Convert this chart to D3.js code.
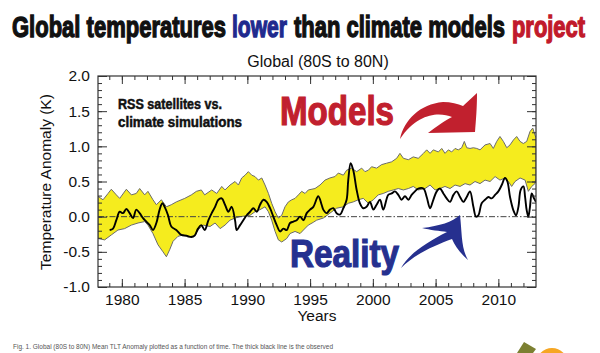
<!DOCTYPE html>
<html><head><meta charset="utf-8">
<script src="https://cdn.jsdelivr.net/npm/d3@7"></script>
<style>body{margin:0;background:#fff}svg{display:block}</style>
</head><body>
<svg id="c" width="600" height="353"></svg>
<script>
// ---- data ----
const xDomain = [1978.1, 2013.0];
const yDomain = [-1.0, 2.0];
const xMajorTicks = [1980, 1985, 1990, 1995, 2000, 2005, 2010];
const yMajorTicks = [-1.0, -0.5, 0.0, 0.5, 1.0, 1.5, 2.0];

const upperYears = [1978.1,1978.5,1978.9,1979.16,1979.56,1979.83,1980.36,1980.76,1981.15,1981.42,1981.82,1982.08,1982.48,1982.75,1983.15,1983.55,1983.94,1984.34,1985.01,1985.54,1985.94,1986.33,1986.6,1987.16,1987.56,1987.96,1988.22,1988.62,1989.02,1989.29,1989.55,1989.82,1990.08,1990.35,1990.61,1990.88,1991.15,1991.41,1991.68,1991.94,1992.21,1992.47,1992.74,1993.0,1993.27,1993.54,1993.8,1994.07,1994.33,1994.6,1994.86,1995.39,1995.79,1996.19,1996.58,1996.98,1997.25,1997.65,1997.91,1998.31,1998.71,1999.11,1999.37,1999.64,1999.9,2000.3,2000.7,2001.1,2001.5,2001.9,2002.16,2002.43,2002.83,2003.22,2003.62,2004.03,2004.29,2004.56,2004.82,2005.22,2005.49,2005.75,2006.02,2006.28,2006.55,2006.81,2007.08,2007.29,2007.48,2007.74,2008.01,2008.28,2008.54,2008.94,2009.34,2009.6,2009.87,2010.13,2010.4,2010.67,2010.93,2011.2,2011.46,2011.73,2011.99,2012.26,2012.52,2012.74,2012.92,2013.0];
const upperValues = [0.29,0.24,0.33,0.39,0.31,0.26,0.39,0.31,0.33,0.40,0.31,0.36,0.24,0.17,0.24,0.14,0.17,0.21,0.26,0.31,0.36,0.38,0.31,0.38,0.33,0.43,0.38,0.45,0.50,0.45,0.55,0.59,0.64,0.59,0.57,0.52,0.55,0.45,0.33,0.19,0.07,-0.02,0.02,0.14,0.21,0.24,0.26,0.31,0.36,0.33,0.38,0.40,0.45,0.52,0.55,0.57,0.62,0.59,0.66,0.69,0.64,0.69,0.64,0.66,0.71,0.69,0.74,0.76,0.78,0.83,0.90,0.83,0.81,0.85,0.83,0.90,0.95,0.90,0.95,0.92,0.97,0.90,0.95,0.92,0.97,0.95,0.98,1.07,0.98,0.97,0.98,0.97,0.95,1.02,1.04,0.97,1.07,1.14,1.07,0.98,1.02,1.09,1.14,1.07,1.04,1.07,1.21,1.26,1.16,1.12];

const lowerYears = [1978.1,1978.63,1979.16,1979.69,1980.22,1980.76,1981.29,1981.82,1982.08,1982.48,1982.88,1983.28,1983.55,1983.81,1984.08,1984.47,1984.87,1985.27,1985.8,1986.07,1986.47,1987.03,1987.43,1987.83,1988.22,1988.62,1989.02,1989.42,1989.82,1990.22,1990.61,1991.01,1991.41,1991.68,1991.94,1992.21,1992.47,1992.74,1993.14,1993.4,1993.8,1994.2,1994.47,1994.86,1995.26,1995.52,1996.05,1996.58,1997.11,1997.65,1998.04,1998.44,1998.84,1999.24,1999.64,2000.04,2000.43,2000.83,2001.23,2001.63,2002.03,2002.43,2002.83,2003.22,2003.62,2004.16,2004.56,2004.96,2005.35,2005.75,2006.15,2006.55,2006.95,2007.35,2007.74,2008.14,2008.54,2008.94,2009.34,2009.74,2010.13,2010.53,2010.8,2011.06,2011.33,2011.73,2012.13,2012.39,2012.66,2012.92,2013.0];
const lowerValues = [-0.31,-0.33,-0.26,-0.19,-0.17,-0.12,-0.09,-0.07,-0.12,-0.24,-0.40,-0.50,-0.57,-0.47,-0.35,-0.28,-0.26,-0.29,-0.27,-0.19,-0.12,-0.14,-0.09,-0.17,-0.12,-0.05,-0.02,0.00,0.01,0.02,0.07,0.10,0.14,0.07,-0.05,-0.21,-0.33,-0.36,-0.31,-0.24,-0.21,-0.24,-0.19,-0.12,-0.08,-0.05,-0.02,0.05,0.12,0.14,0.19,0.21,0.24,0.26,0.19,0.24,0.31,0.33,0.36,0.38,0.40,0.38,0.40,0.43,0.38,0.40,0.45,0.38,0.40,0.43,0.40,0.45,0.43,0.47,0.45,0.50,0.47,0.52,0.50,0.57,0.52,0.55,0.50,0.43,0.50,0.55,0.52,0.36,0.43,0.47,0.55];

const obsYears = [1979.03,1979.3,1979.56,1979.83,1980.09,1980.36,1980.62,1980.89,1981.15,1981.42,1981.69,1981.95,1982.22,1982.48,1982.75,1983.01,1983.23,1983.41,1983.68,1983.94,1984.34,1984.74,1985.14,1985.54,1985.8,1986.07,1986.33,1986.6,1986.9,1987.16,1987.43,1987.69,1987.96,1988.22,1988.49,1988.75,1989.02,1989.15,1989.42,1989.68,1989.95,1990.22,1990.48,1990.75,1991.01,1991.28,1991.54,1991.81,1992.07,1992.34,1992.61,1992.87,1993.14,1993.4,1993.67,1993.93,1994.2,1994.47,1994.73,1995.0,1995.26,1995.65,1995.92,1996.05,1996.32,1996.58,1996.85,1997.11,1997.38,1997.65,1997.91,1998.04,1998.23,1998.44,1998.71,1998.97,1999.24,1999.5,1999.77,2000.04,2000.3,2000.57,2000.83,2001.23,2001.5,2001.76,2002.03,2002.29,2002.56,2002.83,2003.09,2003.36,2003.62,2004.03,2004.29,2004.56,2004.82,2005.09,2005.35,2005.62,2005.88,2006.15,2006.42,2006.68,2006.95,2007.21,2007.48,2007.74,2008.01,2008.22,2008.41,2008.67,2008.94,2009.2,2009.47,2009.74,2010.0,2010.27,2010.53,2010.72,2010.93,2011.2,2011.41,2011.6,2011.78,2012.0,2012.13,2012.26,2012.39,2012.52,2012.66,2012.84,2013.0];
const obsValues = [-0.19,-0.17,-0.05,0.07,0.05,0.11,0.05,-0.02,0.10,0.05,-0.02,-0.07,-0.12,-0.19,-0.09,0.10,0.19,0.14,0.02,-0.14,-0.19,-0.26,-0.27,-0.29,-0.27,-0.17,-0.12,-0.19,-0.05,0.05,0.14,0.24,0.26,0.17,0.07,0.14,-0.05,-0.19,-0.12,-0.05,0.02,0.07,0.12,0.07,0.17,0.24,0.21,0.12,0.00,-0.12,-0.21,-0.17,-0.19,-0.09,-0.07,-0.05,0.00,-0.05,0.05,0.10,0.14,0.29,0.17,0.10,0.05,0.10,0.12,0.05,0.03,0.12,0.24,0.52,0.76,0.66,0.38,0.19,0.12,0.14,0.21,0.10,0.17,0.24,0.10,0.31,0.33,0.36,0.31,0.24,0.29,0.24,0.31,0.36,0.40,0.40,0.28,0.12,0.24,0.36,0.40,0.33,0.26,0.21,0.31,0.36,0.28,0.21,0.28,0.36,0.14,0.00,0.02,0.19,0.24,0.28,0.26,0.31,0.36,0.45,0.55,0.50,0.28,0.09,0.02,0.14,0.38,0.43,0.28,0.09,0.00,0.14,0.33,0.26,0.21];

const titleWords = ["Global temperatures", "lower", "than climate models", "project"];
const titleColors = ["#111", "#1f2a8e", "#111", "#c11a2b"];

// ---- drawing ----
const svg = d3.select("#c");
const L = 98, R = 536, T = 76, B = 287;
const x = d3.scaleLinear().domain(xDomain).range([L, R]);
const y = d3.scaleLinear().domain(yDomain).range([B, T]);
const sans = "'Liberation Sans', Arial, Helvetica, sans-serif";

// title: four separately fitted pieces
const titleX = [12, 232, 294, 512];
const titleLen = [214, 55, 211, 73];
titleWords.forEach((w, i) => {
  svg.append("text")
    .attr("transform", `translate(${titleX[i]},37) scale(1,1.36)`)
    .attr("font-family", sans).attr("font-weight", "bold").attr("font-size", 22)
    .attr("textLength", titleLen[i]).attr("lengthAdjust", "spacingAndGlyphs")
    .attr("fill", titleColors[i]).attr("stroke", titleColors[i]).attr("stroke-width", 1.0)
    .text(w);
});

svg.append("text").attr("x", 318).attr("y", 67).attr("text-anchor", "middle")
  .attr("font-family", sans).attr("font-size", 16).attr("fill", "#111").text("Global (80S to 80N)");

// clip
svg.append("clipPath").attr("id", "clip").append("rect")
  .attr("x", L).attr("y", T).attr("width", R - L).attr("height", B - T);
const plot = svg.append("g").attr("clip-path", "url(#clip)");

const upper = d3.zip(upperYears, upperValues);
const lower = d3.zip(lowerYears, lowerValues);
const obs = d3.zip(obsYears, obsValues);
const line = d3.line().x(d => x(d[0])).y(d => y(d[1]));

plot.append("path").attr("d", line(upper.concat(lower.slice().reverse())) + "Z")
  .attr("fill", "#f5ec1e").attr("stroke", "#6b6b6b").attr("stroke-width", 1);

plot.append("line").attr("x1", L).attr("x2", R).attr("y1", y(0)).attr("y2", y(0))
  .attr("stroke", "#444").attr("stroke-width", 1).attr("stroke-dasharray", "6,2,1.5,2");

plot.append("path").attr("d", line.curve(d3.curveCatmullRom.alpha(0.5))(obs))
  .attr("fill", "none").attr("stroke", "#000").attr("stroke-width", 1.9).attr("stroke-linejoin", "round");

// axes
const minorX = d3.range(1979, 2013);
const minorY = d3.range(-10, 21).map(v => v / 10);
function styleAxis(g) {
  g.select(".domain").remove();
  g.selectAll(".tick line").attr("stroke", "#333").attr("stroke-width", 1);
  g.selectAll(".tick text").attr("font-family", sans).attr("font-size", 15.5).attr("fill", "#111");
}
svg.append("g").attr("transform", `translate(0,${B})`)
  .call(d3.axisBottom(x).tickValues(minorX).tickSize(-4).tickFormat("")).call(styleAxis);
svg.append("g").attr("transform", `translate(0,${B})`)
  .call(d3.axisBottom(x).tickValues(xMajorTicks).tickSize(-8).tickPadding(6.5).tickFormat(d3.format("d"))).call(styleAxis);
svg.append("g").attr("transform", `translate(0,${T})`)
  .call(d3.axisTop(x).tickValues(minorX).tickSize(-4).tickFormat("")).call(styleAxis);
svg.append("g").attr("transform", `translate(0,${T})`)
  .call(d3.axisTop(x).tickValues(xMajorTicks).tickSize(-8).tickFormat("")).call(styleAxis);
svg.append("g").attr("transform", `translate(${L},0)`)
  .call(d3.axisLeft(y).tickValues(minorY).tickSize(-4).tickFormat("")).call(styleAxis);
svg.append("g").attr("transform", `translate(${L},0)`)
  .call(d3.axisLeft(y).tickValues(yMajorTicks).tickSize(-9).tickPadding(8).tickFormat(d => d3.format(".1f")(d).replace("−", "-"))).call(styleAxis);
svg.append("g").attr("transform", `translate(${R},0)`)
  .call(d3.axisRight(y).tickValues(minorY).tickSize(-4).tickFormat("")).call(styleAxis);
svg.append("g").attr("transform", `translate(${R},0)`)
  .call(d3.axisRight(y).tickValues(yMajorTicks).tickSize(-9).tickFormat("")).call(styleAxis);

svg.append("rect").attr("x", L).attr("y", T).attr("width", R - L).attr("height", B - T)
  .attr("fill", "none").attr("stroke", "#333").attr("stroke-width", 1.2);

// axis titles
svg.append("text").attr("transform", `translate(51,182) rotate(-90)`).attr("text-anchor", "middle")
  .attr("font-family", sans).attr("font-size", 15.5).attr("fill", "#111").text("Temperature Anomaly (K)");
svg.append("text").attr("x", 317).attr("y", 321).attr("text-anchor", "middle")
  .attr("font-family", sans).attr("font-size", 15.5).attr("fill", "#111").text("Years");

// annotations
function bold(txt, xx, yy, size, len, fill, sw) {
  svg.append("text").attr("x", xx).attr("y", yy).attr("font-family", sans).attr("font-weight", "bold")
    .attr("font-size", size).attr("textLength", len).attr("lengthAdjust", "spacingAndGlyphs")
    .attr("fill", fill).attr("stroke", fill).attr("stroke-width", sw).text(txt);
}
bold("RSS satellites vs.", 118, 108.5, 14, 104, "#111", 0.5);
bold("climate simulations", 118, 127, 14, 124, "#111", 0.5);
bold("Models", 280, 125, 40, 114, "#c1202e", 1.2);
bold("Reality", 290, 267, 39, 109, "#26308f", 1.2);

svg.append("path").attr("fill", "#c1202e")
  .attr("d", "M400,139 C404,120 420,104 443,102 C451,102 458,104 463,106 L477,93 C477,108 476,120 475,132 L428,133 C437,126 446,120 452,117 C440,112 418,112 400,139 Z");
svg.append("path").attr("fill", "#26308f")
  .attr("d", "M401,268 C408,255 425,243 447,232 C440,231 430,230 422,228 C440,226 452,222 460,215 C462,232 461,248 468,260 C460,253 455,246 452,239 C436,245 416,253 401,268 Z");

// caption
svg.append("text").attr("x", 13).attr("y", 349).attr("font-family", sans).attr("font-size", 7)
  .attr("fill", "#555").attr("textLength", 320).attr("lengthAdjust", "spacingAndGlyphs")
  .text("Fig. 1.  Global (80S to 80N) Mean TLT Anomaly plotted as a function of time.  The thick black line is the observed");

// logo fragment
svg.append("polygon").attr("points", "517,353 524,342 536,349 533,353").attr("fill", "#7c8032");
svg.append("circle").attr("cx", 552).attr("cy", 364).attr("r", 16).attr("fill", "#f6a623");
</script>
</body></html>
